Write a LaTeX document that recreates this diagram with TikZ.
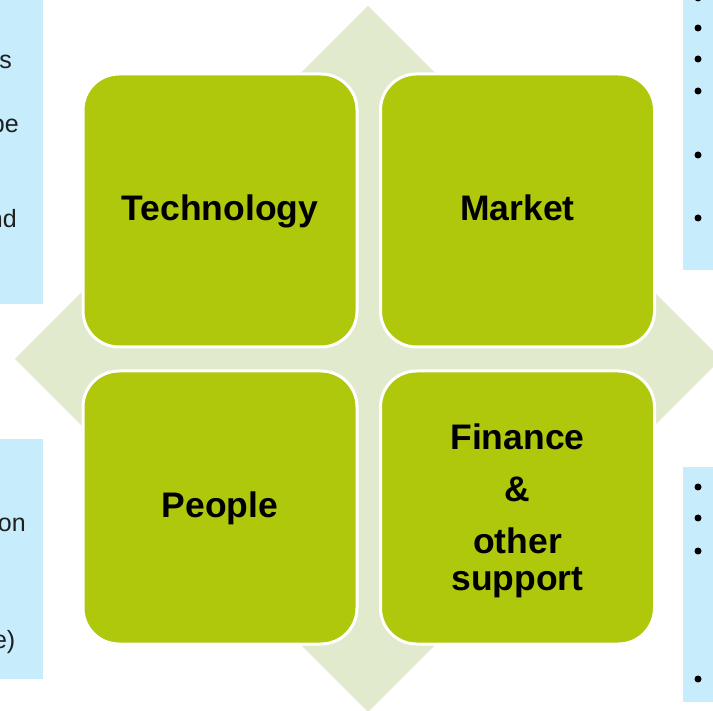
\documentclass[tikz,border=0pt]{standalone}
\usepackage{fontspec}
\setmainfont{Liberation Sans}
\definecolor{leaf}{RGB}{176,200,12}
\definecolor{pale}{RGB}{226,234,206}
\definecolor{sky}{RGB}{199,237,252}
\begin{document}
\begin{tikzpicture}[x=1pt,y=-1pt,
  quad/.style={fill=leaf,draw=white,line width=3pt,rounded corners=36pt,
    minimum width=274pt,minimum height=273pt,inner sep=0pt},
  lbl/.style={font=\fontsize{35.5}{40}\selectfont\bfseries,text=black,inner sep=0pt,anchor=base},
  cut/.style={font=\fontsize{25}{30}\selectfont,text=black!88,inner sep=0pt,anchor=base east},
  dot/.style={circle,fill=black,inner sep=0pt,minimum size=7pt}]
\clip (0,0) rectangle (713,711);
\fill[white] (0,0) rectangle (713,711);
% side panels
\fill[sky] (0,-5) rectangle (43,304);
\fill[sky] (0,439) rectangle (43,679);
\fill[sky] (683,-5) rectangle (720,270);
\fill[sky] (683,467) rectangle (720,702);
% cut-off texts
\node[cut] (t1) at (12,69) {s};
\node[cut] (t2) at (19,133) {pe};
\node[cut] (t3) at (17,228) {nd};
\node[cut] (t4) at (26,532) {on};
\node[cut] (t5) at (15.5,648) {e)};
% bullets
\node[dot] (b0) at (698,-2) {};
\node[dot] (b1) at (698,28) {};
\node[dot] (b2) at (698,59) {};
\node[dot] (b3) at (698,91) {};
\node[dot] (b4) at (698,155) {};
\node[dot] (b5) at (698,218) {};
\node[dot] (b6) at (698,487) {};
\node[dot] (b7) at (698,518) {};
\node[dot] (b8) at (698,551) {};
\node[dot] (b9) at (698,679) {};
% diamond
\fill[pale] (368,6) -- (721,359) -- (368,712) -- (15,359) -- cycle;
% quadrants
\node[quad] (tech) at (220,210.5) {};
\node[quad] (mkt) at (517.5,210.5) {};
\node[quad] (ppl) at (220,507.5) {};
\node[quad] (fin) at (517.5,507.5) {};
% labels
\node[lbl] (techl) at (220,221) {Technology};
\node[lbl] (mktl) at (517.5,221) {Market};
\node[lbl] (ppll) at (220,518) {People};
\node[lbl] (fin1) at (517.5,450) {Finance};
\node[lbl] (fin2) at (517.5,501) {\&};
\node[lbl] (fin3) at (517.5,553) {other};
\node[lbl] (fin4) at (517.5,590) {support};
\end{tikzpicture}
\end{document}
